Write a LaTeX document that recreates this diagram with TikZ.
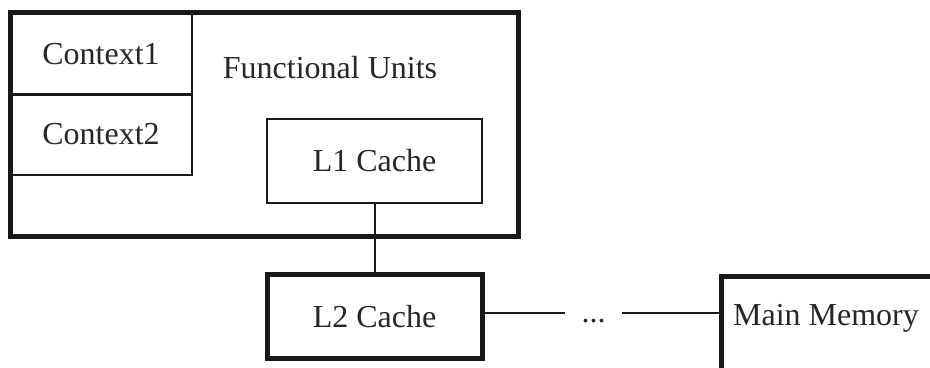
\documentclass[tikz,border=0pt]{standalone}
\usepackage{fontspec}
\setmainfont{Liberation Serif}
\begin{document}
\begin{tikzpicture}[x=0.5pt,y=-0.5pt,
  txt/.style={font=\fontsize{16}{18}\selectfont, text=black!85},
  thickbox/.style={draw=black!90, line width=2.5pt, inner sep=0pt},
  thinbox/.style={draw=black!90, line width=1.1pt, inner sep=0pt},
  conn/.style={draw=black!90, line width=1pt}]
\useasboundingbox (0,0) rectangle (930,368);
\clip (0,0) rectangle (930,368);
% outer processor box
\node[thickbox, minimum width=254pt, minimum height=112pt] (outer) at (264,125) {};
\node[thinbox, line width=1.3pt, minimum width=91pt, minimum height=40.5pt, txt] (c1) at (101,54) {Context1};
\node[thinbox, line width=1.3pt, minimum width=91pt, minimum height=40.5pt, txt] (c2) at (101,134.5) {Context2};
\node[txt] (fu) at (330,68) {Functional Units};
\node[thinbox, minimum width=107.5pt, minimum height=42pt, txt] (l1) at (374.5,161) {L1 Cache};
\node[thickbox, minimum width=107.5pt, minimum height=41.5pt, txt] (l2) at (374.5,316.5) {L2 Cache};
\node[thickbox, anchor=north west, minimum width=140.5pt, minimum height=73pt] (mm) at (719,274) {};
\node[txt] (mmt) at (826,318) {Main Memory};
\node[txt, inner sep=0pt, minimum width=28.5pt, anchor=base] (dots) at (593.5,322) {...};
\draw[conn] (l1.south) -- (l2.north);
\draw[conn] (l2.east |- 0,313) -- (dots.west |- 0,313);
\draw[conn] (dots.east |- 0,313) -- (mm.west |- 0,313);
\end{tikzpicture}
\end{document}
